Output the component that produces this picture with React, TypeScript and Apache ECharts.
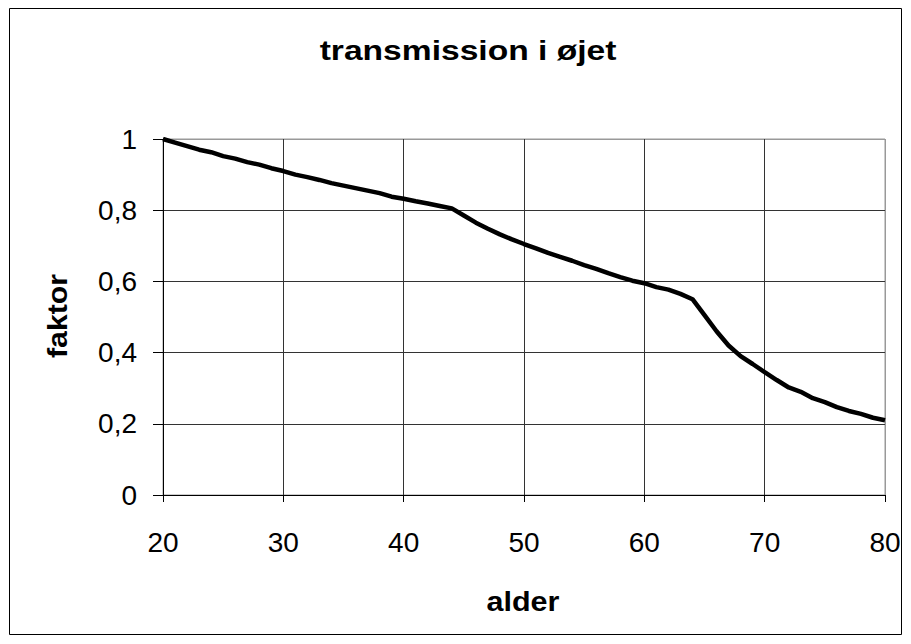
import React, { useEffect, useRef } from "react";
import * as echarts from "echarts";

const ages: number[] = [
  20, 21, 22, 23, 24, 25, 26, 27, 28, 29, 30, 31, 32, 33, 34, 35, 36, 37, 38, 39, 40,
  41, 42, 43, 44, 45, 46, 47, 48, 49, 50, 51, 52, 53, 54, 55, 56, 57, 58, 59, 60,
  61, 62, 63, 64, 65, 66, 67, 68, 69, 70, 71, 72, 73, 74, 75, 76, 77, 78, 79, 80,
];
const faktor: number[] = [
  1.0, 0.99, 0.98, 0.97, 0.963, 0.952, 0.945, 0.935, 0.928, 0.918, 0.91,
  0.9, 0.893, 0.885, 0.876, 0.869, 0.862, 0.855, 0.848, 0.838, 0.832,
  0.825, 0.819, 0.812, 0.805, 0.785, 0.765, 0.748, 0.732, 0.718, 0.705,
  0.693, 0.68, 0.669, 0.658, 0.646, 0.635, 0.623, 0.612, 0.602, 0.595,
  0.584, 0.577, 0.565, 0.55, 0.505, 0.46, 0.42, 0.39, 0.368, 0.345,
  0.323, 0.302, 0.29, 0.272, 0.261, 0.247, 0.236, 0.228, 0.217, 0.21,
];

const title = "transmission i øjet";
const xName = "alder";
const yName = "faktor";

export default function App() {
  const ref = useRef<HTMLDivElement>(null);
  useEffect(() => {
    if (!ref.current) return;
    const chart = echarts.init(ref.current, null, { renderer: "svg" });
    const font = "Liberation Sans, Arial, sans-serif";
    const boldText = (text: string, x: number, y: number, size: number, sx: number, rot = 0) => ({
      type: "text",
      x,
      y,
      rotation: rot,
      scaleX: sx,
      scaleY: 1,
      silent: true,
      style: {
        text,
        fontFamily: font,
        fontSize: size,
        fontWeight: "bold",
        fill: "#000",
        align: "center",
        verticalAlign: "middle",
      },
    });
    chart.setOption({
      animation: false,
      backgroundColor: "#fff",
      graphic: [
        {
          type: "rect",
          shape: { x: 9.5, y: 8.5, width: 892, height: 626 },
          style: { fill: "none", stroke: "#000", lineWidth: 1 },
          silent: true,
        },
        boldText(title, 468, 50, 28, 1.2),
        boldText(yName, 57, 316, 28, 1.08, Math.PI / 2),
        boldText(xName, 523, 601, 28, 1.09),
      ],
      grid: {
        left: 163,
        right: 26,
        top: 139,
        bottom: 149,
        show: true,
        borderColor: "#999",
        borderWidth: 1,
        backgroundColor: "transparent",
      },
      xAxis: {
        type: "value",
        min: 20,
        max: 80,
        interval: 10,
        axisLine: { show: true, onZero: false, lineStyle: { color: "#000", width: 1 } },
        axisTick: { show: true, inside: false, length: 7, lineStyle: { color: "#000" } },
        axisLabel: { margin: 33, fontFamily: font, fontSize: 28, color: "#000" },
        splitLine: {
          show: true,
          lineStyle: { color: ["#333", "#333", "#333", "#333", "#333", "#333", "#999"], width: 1 },
        },
      },
      yAxis: {
        type: "value",
        min: 0,
        max: 1,
        interval: 0.2,
        axisLine: { show: true, lineStyle: { color: "#000", width: 1 } },
        axisTick: { show: true, inside: false, length: 10, lineStyle: { color: "#000" } },
        axisLabel: {
          margin: 26,
          fontFamily: font,
          fontSize: 28,
          color: "#000",
          formatter: (v: number) => String(Math.round(v * 10) / 10).replace(".", ","),
        },
        splitLine: {
          show: true,
          lineStyle: { color: ["#333", "#333", "#333", "#333", "#333", "#999"], width: 1 },
        },
      },
      series: [
        {
          type: "line",
          data: ages.map((a, i) => [a, faktor[i]]),
          showSymbol: false,
          lineStyle: { color: "#000", width: 4.5 },
        },
      ],
    });
    return () => chart.dispose();
  }, []);
  return (
    <div
      ref={ref}
      style={{ position: "fixed", left: 0, top: 0, width: 911, height: 644 }}
    />
  );
}
